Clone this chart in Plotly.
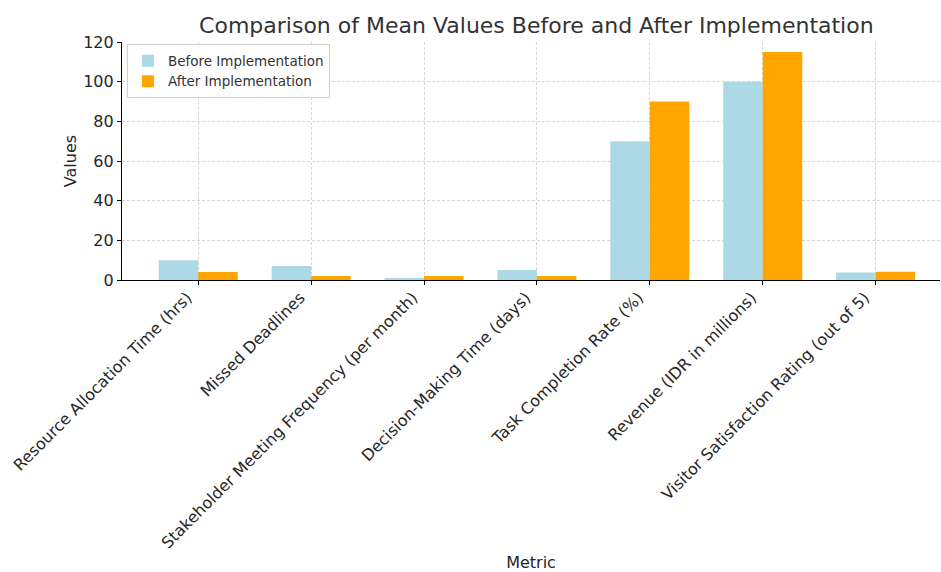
import plotly.graph_objects as go

metrics = [
    "Resource Allocation Time (hrs)",
    "Missed Deadlines",
    "Stakeholder Meeting Frequency (per month)",
    "Decision-Making Time (days)",
    "Task Completion Rate (%)",
    "Revenue (IDR in millions)",
    "Visitor Satisfaction Rating (out of 5)",
]
before_values = [10, 7, 1, 5, 70, 100, 3.8]
after_values = [4, 2, 2, 2, 90, 115, 4.2]
y_ticks = [0, 20, 40, 60, 80, 100, 120]

font_family = "DejaVu Sans"
text_color = "#262626"
grid_color = "#d5d5d5"

fig = go.Figure()
fig.add_trace(go.Bar(
    x=metrics, y=before_values, name="Before Implementation",
    marker=dict(color="#add8e6", line=dict(width=0)),
))
fig.add_trace(go.Bar(
    x=metrics, y=after_values, name="After Implementation",
    marker=dict(color="#ffa500", line=dict(width=0)),
))

fig.update_layout(
    width=941, height=572,
    margin=dict(l=122, r=1, t=42, b=292),
    paper_bgcolor="white", plot_bgcolor="white",
    barmode="group", bargap=0.3, bargroupgap=0,
    font=dict(family=font_family, color=text_color, size=16),
    title=dict(
        text="Comparison of Mean Values Before and After Implementation",
        x=0.57, xanchor="center", y=0.955, yanchor="middle",
        font=dict(size=22, color="#333333"),
    ),
    legend=dict(
        x=0.006, y=0.99, xanchor="left", yanchor="top",
        bgcolor="rgba(255,255,255,0.8)", bordercolor="#d0d0d0", borderwidth=1,
        font=dict(size=13.5, color="#333333"),
        itemwidth=30,
    ),
    showlegend=True,
)

fig.update_xaxes(
    range=[-0.675, 6.57],
    tickangle=-45, automargin=False,
    ticklabelshift=-11, ticklabelstandoff=-3,
    showline=True, linecolor="black", linewidth=1.2,
    ticks="outside", ticklen=4, tickcolor="black",
    showgrid=True, gridcolor=grid_color, griddash="3px,2px", gridwidth=0.8,
    tickfont=dict(size=16, color=text_color),
    title=dict(text="Metric", font=dict(size=16, color=text_color), standoff=8),
)
fig.update_yaxes(
    range=[0, 120], tickvals=y_ticks, automargin=False,
    showline=True, linecolor="black", linewidth=1.2,
    ticks="outside", ticklen=4, tickcolor="black",
    showgrid=True, gridcolor=grid_color, griddash="3px,2px", gridwidth=0.8,
    zeroline=False,
    tickfont=dict(size=16, color=text_color),
    title=dict(text="Values", font=dict(size=16, color=text_color), standoff=2),
)

fig.write_html("out.html")
